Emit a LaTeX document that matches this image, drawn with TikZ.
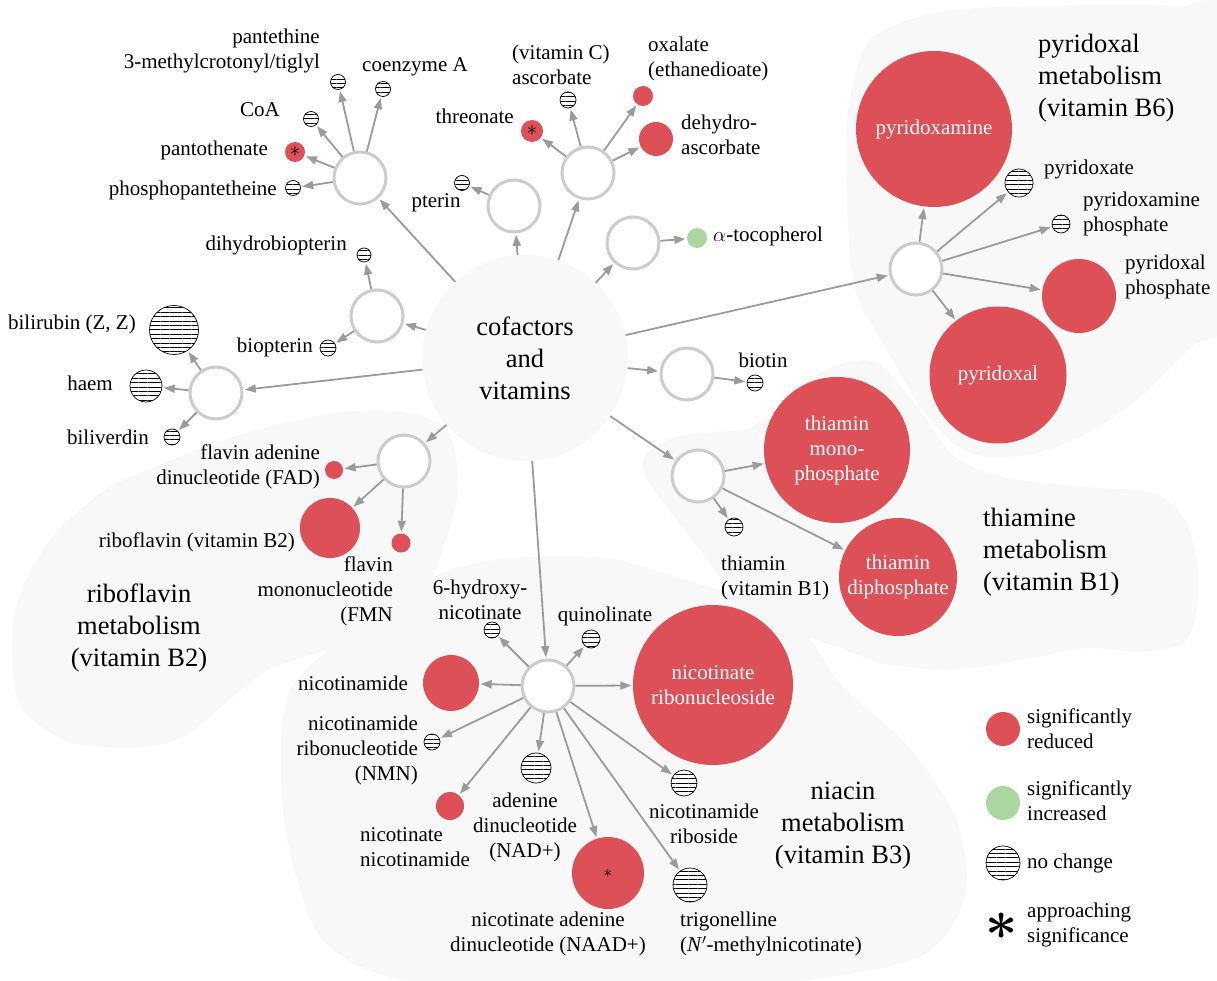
\documentclass[tikz,border=0pt]{standalone}
\usepackage{fontspec}
\setmainfont{Liberation Serif}
\usetikzlibrary{arrows.meta,patterns.meta}
\definecolor{sigred}{RGB}{222,80,88}
\definecolor{siggreen}{RGB}{172,214,160}
\definecolor{hubgray}{RGB}{204,204,204}
\definecolor{arrgray}{RGB}{155,155,155}
\definecolor{blobgray}{RGB}{248,248,248}
\newcommand{\lblfont}{\fontsize{21}{25}\selectfont}
\newcommand{\ttlfont}{\fontsize{26.5}{32}\selectfont}

\begin{document}
\begin{tikzpicture}[x=1pt,y=-1pt,
    hub/.style={circle,draw=hubgray,line width=3pt,fill=white,minimum size=52pt,inner sep=0pt},
    reduced/.style={circle,fill=sigred,inner sep=0pt,text=white,align=center,font=\lblfont},
    increased/.style={circle,fill=siggreen,inner sep=0pt},
    nochange/.style={circle,draw=black,line width=0.7pt,fill=white,inner sep=0pt,
        postaction={pattern={Lines[angle=0,distance=4.4pt,line width=0.6pt]}}},
    lbl/.style={inner sep=0pt,font=\lblfont},
    ttl/.style={inner sep=0pt,font=\ttlfont},
    arr/.style={draw=arrgray,line width=1.8pt,-{Triangle[length=11pt,width=8pt]},shorten >=1.5pt}]
                \clip (0,0) rectangle (1217,981);

                % pathway areas
                \fill[blobgray] plot[smooth cycle] coordinates {(848,110) (870,40) (940,12) (1040,6) (1175,6) (1240,20) (1240,300) (1190,348) (1137,400) (1087,433) (1037,453) (987,457) (953,443) (920,407) (887,350) (855,290) (847,200)};
                \fill[blobgray] plot[smooth cycle] coordinates {(645,455) (672,438) (712,432) (750,428) (785,400) (825,370) (875,362) (920,410) (953,455) (1003,477) (1087,487) (1153,493) (1185,520) (1198,570) (1195,620) (1180,645) (1137,652) (1087,648) (1020,660) (953,670) (887,664) (840,648) (780,625) (735,595) (700,550) (665,505) (645,475)};
                \fill[blobgray] plot[smooth cycle] coordinates {(15,610) (50,540) (105,490) (160,465) (230,438) (333,413) (410,413) (450,435) (458,490) (446,540) (427,590) (402,625) (357,644) (306,656) (265,672) (223,705) (185,736) (134,748) (64,740) (18,700)};
                \fill[blobgray] plot[smooth cycle] coordinates {(281,750) (290,690) (332,648) (383,629) (415,594) (446,571) (510,558) (606,558) (702,585) (790,615) (842,686) (906,744) (957,820) (965,897) (925,954) (829,977) (700,990) (500,990) (383,975) (319,935) (287,839)};

                \node[circle,fill=blobgray,minimum size=206pt,inner sep=0pt,font=\ttlfont,align=center] (cv) at (525,358) {cofactors\\and\\vitamins};

                % hubs
                \node[hub] (hpant) at (360,178) {};
                \node[hub] (hpter) at (514,206) {};
                \node[hub] (hasc) at (588,173) {};
                \node[hub] (htoc) at (633,243) {};
                \node[hub] (hbiop) at (377,316) {};
                \node[hub] (hhaem) at (216,393) {};
                \node[hub] (hflav) at (404,461) {};
                \node[hub] (hbiot) at (687,374) {};
                \node[hub] (hthia) at (698,476) {};
                \node[hub] (hniac) at (548,686) {};
                \node[hub] (hpyr) at (916,269) {};

                % pantothenate
                \node[nochange,minimum size=15pt] (ppant) at (293,188) {};
                \node[reduced,text=black,minimum size=20pt] (pant) at (295,152) {$\ast$};
                \node[nochange,minimum size=15pt] (coa) at (311,119) {};
                \node[nochange,minimum size=15pt] (mct) at (338,82) {};
                \node[nochange,minimum size=15pt] (coenz) at (383,89) {};
                \node[lbl,anchor=east] (ppant-l) at (277,190) {phosphopantetheine};
                \node[lbl,anchor=east] (pant-l) at (268,150) {pantothenate};
                \node[lbl,anchor=east] (coa-l) at (280,110) {CoA};
                \node[lbl,anchor=east,align=right] (mct-l) at (320,51) {pantethine\\3-methylcrotonyl/tiglyl};
                \node[lbl] (coenz-l) at (415,67) {coenzyme A};

                \node[nochange,minimum size=15pt] (pter) at (462,183) {};
                \node[lbl] (pter-l) at (436,203) {pterin};

                % ascorbate
                \node[reduced,text=black,minimum size=22pt] (threo) at (532,131) {$\ast$};
                \node[nochange,minimum size=16pt] (asc) at (568,100) {};
                \node[reduced,minimum size=20pt] (oxal) at (643,96) {};
                \node[reduced,minimum size=34pt] (dhasc) at (656,139) {};
                \node[lbl,anchor=east] (threo-l) at (514,116) {threonate};
                \node[lbl,anchor=west,align=left] (asc-l) at (512,65) {(vitamin C)\\ascorbate};
                \node[lbl,anchor=west,align=left] (oxal-l) at (648,59) {oxalate\\(ethanedioate)};
                \node[lbl,anchor=west,align=left] (dhasc-l) at (681,135) {dehydro-\\ascorbate};

                \node[increased,minimum size=20pt] (toc) at (697,238) {};
                \node[lbl,anchor=west] (toc-l) at (713,236) {$\alpha$-tocopherol};

                \node[nochange,minimum size=14pt] (dhbiop) at (364,255) {};
                \node[nochange,minimum size=16pt] (biop) at (328,348) {};
                \node[lbl,anchor=east] (dhbiop-l) at (347,245) {dihydrobiopterin};
                \node[lbl,anchor=east] (biop-l) at (313,347) {biopterin};

                \node[nochange,minimum size=49pt] (bili) at (174,330) {};
                \node[nochange,minimum size=32pt] (haem) at (146,386) {};
                \node[nochange,minimum size=16pt] (biliv) at (172,437) {};
                \node[lbl,anchor=east] (bili-l) at (136,324) {bilirubin (Z, Z)};
                \node[lbl,anchor=east] (haem-l) at (113,383) {haem};
                \node[lbl,anchor=east] (biliv-l) at (149,437) {biliverdin};

                % riboflavin
                \node[reduced,minimum size=18pt] (fad) at (334,470) {};
                \node[reduced,minimum size=60pt] (ribo) at (330,528) {};
                \node[reduced,minimum size=19pt] (fmn) at (401,543) {};
                \node[lbl,anchor=east,align=right] (fad-l) at (320,467) {flavin adenine\\dinucleotide (FAD)};
                \node[lbl,anchor=east] (ribo-l) at (295,542) {riboflavin (vitamin B2)};
                \node[lbl,anchor=east,align=right] (fmn-l) at (393,591) {flavin\\mononucleotide\\(FMN};

                \node[nochange,minimum size=16pt] (biot) at (755,383) {};
                \node[lbl] (biot-l) at (763,360) {biotin};

                % thiamine
                \node[reduced,minimum size=146pt] (tmp) at (837,450) {thiamin\\mono-\\phosphate};
                \node[reduced,minimum size=118pt] (tdp) at (898,577) {thiamin\\diphosphate};
                \node[nochange,minimum size=18pt] (thia) at (734,527) {};
                \node[lbl,anchor=west,align=left] (thia-l) at (721,578) {thiamin\\(vitamin B1)};

                % pyridoxal
                \node[reduced,minimum size=156pt] (pxam) at (934,129) {pyridoxamine};
                \node[nochange,minimum size=28pt] (pxat) at (1019,183) {};
                \node[nochange,minimum size=18pt] (pxamp) at (1061,224) {};
                \node[reduced,minimum size=74pt] (plp) at (1079,296) {};
                \node[reduced,minimum size=137pt] (pxal) at (998,375) {pyridoxal};
                \node[lbl,anchor=west] (pxat-l) at (1044,169) {pyridoxate};
                \node[lbl,anchor=west,align=left] (pxamp-l) at (1083,214) {pyridoxamine\\phosphate};
                \node[lbl,anchor=west,align=left] (plp-l) at (1125,277) {pyridoxal\\phosphate};

                % niacin
                \node[nochange,minimum size=16pt] (hnic) at (492,630) {};
                \node[nochange,minimum size=18pt] (quin) at (591,639) {};
                \node[reduced,minimum size=160pt] (nrs) at (713,685) {nicotinate\\ribonucleoside};
                \node[reduced,minimum size=56pt] (nam) at (451,683) {};
                \node[nochange,minimum size=16pt] (nmn) at (432,742) {};
                \node[reduced,minimum size=28pt] (nn) at (450,806) {};
                \node[nochange,minimum size=30pt] (nad) at (536,768) {};
                \node[reduced,text=black,minimum size=72pt,font=\fontsize{16}{16}\selectfont] (naad) at (608,873) {$\ast$};
                \node[nochange,minimum size=26pt] (nr) at (684,783) {};
                \node[nochange,minimum size=34pt] (trig) at (690,885) {};
                \node[lbl,align=center] (hnic-l) at (480,600) {6-hydroxy-\\nicotinate};
                \node[lbl] (quin-l) at (605,616) {quinolinate};
                \node[lbl,anchor=east] (nam-l) at (408,683) {nicotinamide};
                \node[lbl,anchor=east,align=right] (nmn-l) at (418,750) {nicotinamide\\ribonucleotide\\(NMN)};
                \node[lbl,anchor=west,align=left] (nn-l) at (360,847) {nicotinate\\nicotinamide};
                \node[lbl,align=center] (nad-l) at (525,827) {adenine\\dinucleotide\\(NAD+)};
                \node[lbl,align=center] (naad-l) at (548,934) {nicotinate adenine\\dinucleotide (NAAD+)};
                \node[lbl,align=center] (nr-l) at (704,824) {nicotinamide\\riboside};
                \node[lbl,anchor=west,align=left] (trig-l) at (680,934) {trigonelline\\(\textit{N}$'$-methylnicotinate)};

                % titles
                \node[ttl,anchor=west,align=left] (pyr-t) at (1038,78) {pyridoxal\\metabolism\\(vitamin B6)};
                \node[ttl,anchor=west,align=left] (thia-t) at (983,552) {thiamine\\metabolism\\(vitamin B1)};
                \node[ttl,align=center] (ribo-t) at (139,628) {riboflavin\\metabolism\\(vitamin B2)};
                \node[ttl,align=center] (niac-t) at (843,826) {niacin\\metabolism\\(vitamin B3)};

                % legend
                \node[reduced,minimum size=34pt] (leg-red) at (1003,729) {};
                \node[increased,minimum size=34pt] (leg-green) at (1003,803) {};
                \node[nochange,minimum size=34pt] (leg-nc) at (1003,863) {};
                \node[inner sep=0pt,font=\lblfont] (leg-star) at (1002,926) {\scalebox{2.7}{\boldmath$\ast$}};
                \node[lbl,anchor=west,align=left] (leg-red-l) at (1027,729) {significantly\\reduced};
                \node[lbl,anchor=west,align=left] (leg-green-l) at (1027,801) {significantly\\increased};
                \node[lbl,anchor=west] (leg-nc-l) at (1027,863) {no change};
                \node[lbl,anchor=west,align=left] (leg-star-l) at (1027,925) {approaching\\significance};

                \foreach \h in {hpant,hpter,hasc,htoc,hbiop,hhaem,hflav,hbiot,hthia,hniac,hpyr}
                    \draw[arr] (cv) -- (\h);
                \foreach \m in {ppant,pant,coa,mct,coenz}
                    \draw[arr] (hpant) -- (\m);
                \draw[arr] (hpter) -- (pter);
                \foreach \m in {threo,asc,oxal,dhasc}
                    \draw[arr] (hasc) -- (\m);
                \draw[arr] (htoc) -- (toc);
                \foreach \m in {dhbiop,biop}
                    \draw[arr] (hbiop) -- (\m);
                \foreach \m in {bili,haem,biliv}
                    \draw[arr] (hhaem) -- (\m);
                \foreach \m in {fad,ribo,fmn}
                    \draw[arr] (hflav) -- (\m);
                \draw[arr] (hbiot) -- (biot);
                \foreach \m in {tmp,tdp,thia}
                    \draw[arr] (hthia) -- (\m);
                \foreach \m in {pxam,pxat,pxamp,plp,pxal}
                    \draw[arr] (hpyr) -- (\m);
                \foreach \m in {hnic,quin,nrs,nam,nmn,nn,nad,naad,nr,trig}
                    \draw[arr] (hniac) -- (\m);
\end{tikzpicture}
\end{document}
